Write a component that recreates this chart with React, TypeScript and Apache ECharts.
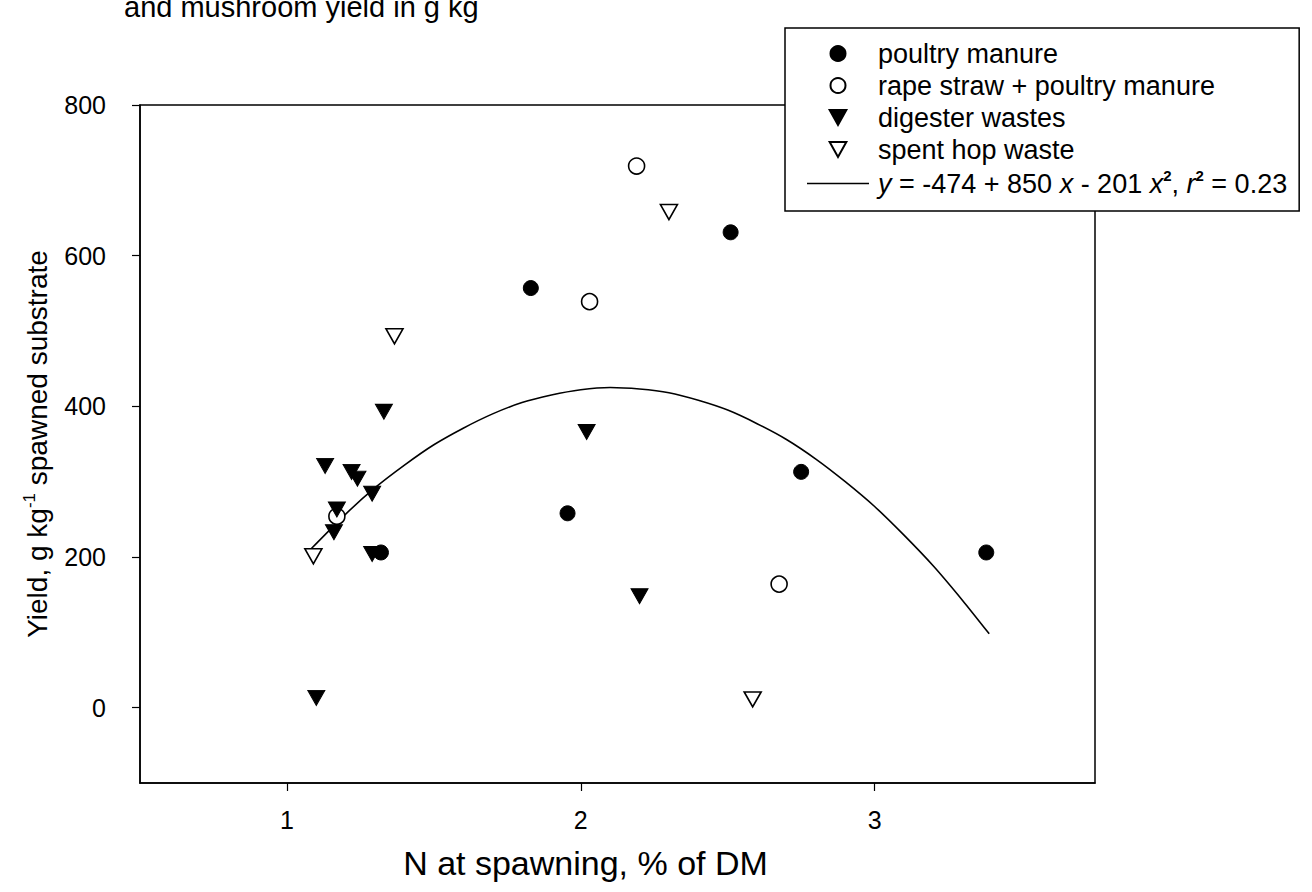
import React, { useEffect, useRef } from "react";
import * as echarts from "echarts";

// Data
const poultryX = [1.32, 1.83, 1.955, 2.51, 2.75, 3.38];
const poultryY = [206, 557, 258, 631, 313, 206];

const rapeX = [1.17, 2.03, 2.19, 2.675];
const rapeY = [254, 539, 719, 164];

const digesterX = [1.1, 1.13, 1.16, 1.17, 1.22, 1.24, 1.29, 1.29, 1.33, 2.02, 2.2];
const digesterY = [13, 321, 233, 263, 313, 304, 284, 204, 393, 366, 148];

const hopX = [1.09, 1.366, 2.3, 2.585];
const hopY = [201, 493, 658, 11];

// fitted curve, points
const fitX = [1.08, 1.2, 1.3, 1.4, 1.5, 1.6, 1.7, 1.8, 1.9, 2.0, 2.1, 2.2, 2.3, 2.4, 2.5, 2.6, 2.7, 2.8, 2.9, 3.0, 3.1, 3.2, 3.3, 3.39];
const fitY = [210, 257, 292, 322, 349, 371, 390, 405, 415, 422, 425, 423, 418, 408, 395, 377, 356, 330, 300, 267, 229, 188, 142, 98];

const xTicks = [1, 2, 3];
const yTicks = [0, 200, 400, 600, 800];

const seriesNames = [
  "poultry manure",
  "rape straw + poultry manure",
  "digester wastes",
  "spent hop waste",
  "fit",
];

const zip = (xs: number[], ys: number[]) => xs.map((x, i) => [x, ys[i]]);

const FONT = "Liberation Sans, Arial, sans-serif";

export default function App() {
  const ref = useRef<HTMLDivElement>(null);
  useEffect(() => {
    if (!ref.current) return;
    const chart = echarts.init(ref.current, undefined, { renderer: "svg" });
    const downTri = "path://M0,0 L10,0 L5,9 Z";
    const lineIcon = "path://M0,0 L100,0 L100,2.4 L0,2.4 Z";
    chart.setOption({
      animation: false,
      backgroundColor: "#fff",
      textStyle: { fontFamily: FONT, color: "#000" },
      grid: {
        left: 140,
        right: 217,
        top: 105,
        bottom: 109,
        show: true,
        borderColor: "#000",
        borderWidth: 1.5,
        containLabel: false,
      },
      graphic: [
        {
          type: "text",
          left: 124,
          top: -8,
          style: {
            text: "and mushroom yield in g kg",
            font: `29px ${FONT}`,
            fill: "#000",
          },
        },
      ],
      legend: {
        orient: "vertical",
        left: 785,
        top: 28,
        width: 520,
        padding: [12, 12, 14, 22],
        itemGap: 5,
        itemWidth: 62,
        itemHeight: 15,
        symbolKeepAspect: true,
        borderColor: "#000",
        borderWidth: 1.5,
        backgroundColor: "#fff",
        z: 20,
        data: seriesNames.map((n, i) => {
          if (i === 0) return { name: n, icon: "circle" };
          if (i === 1) return { name: n, icon: "circle" };
          if (i === 2) return { name: n, icon: downTri };
          if (i === 3) return { name: n, icon: downTri };
          return { name: n, icon: lineIcon };
        }),
        textStyle: {
          fontFamily: FONT,
          fontSize: 27,
          color: "#000",
          padding: [0, 0, 0, 4],
          rich: {
            i: { fontFamily: FONT, fontSize: 27, fontStyle: "italic", color: "#000" },
            s: {
              fontFamily: FONT,
              fontSize: 15,
              fontWeight: "bold",
              color: "#000",
              verticalAlign: "top",
              padding: [0, 0, 16, 0],
            },
          },
        },
        formatter: (name: string) =>
          name === "fit"
            ? "{i|y} = -474 + 850 {i|x} - 201 {i|x}{s|2}, {i|r}{s|2} = 0.23"
            : name,
      },
      xAxis: {
        type: "value",
        min: 0.5,
        max: 3.75,
        name: "N at spawning, % of DM",
        nameLocation: "middle",
        nameGap: 63,
        nameTextStyle: {
          fontFamily: FONT,
          fontSize: 34,
          color: "#000",
          padding: [0, 64, 0, 0],
        },
        axisLine: { show: true, onZero: false, lineStyle: { color: "#000", width: 1.5 } },
        axisTick: {
          show: true,
          length: 8,
          customValues: xTicks,
          lineStyle: { color: "#000", width: 1.2 },
        },
        axisLabel: {
          customValues: xTicks,
          fontFamily: FONT,
          fontSize: 25,
          color: "#000",
          margin: 24,
        },
        splitLine: { show: false },
      },
      yAxis: {
        type: "value",
        min: -100,
        max: 800,
        name: "Yield, g kg{s|-1} spawned substrate",
        nameLocation: "middle",
        nameGap: 86,
        nameTextStyle: {
          fontFamily: FONT,
          fontSize: 28,
          color: "#000",
          rich: {
            s: {
              fontFamily: FONT,
              fontSize: 17,
              color: "#000",
              verticalAlign: "top",
              padding: [0, 0, 16, 0],
            },
          },
        },
        axisLine: { show: true, onZero: false, lineStyle: { color: "#000", width: 1.5 } },
        axisTick: {
          show: true,
          length: 8,
          customValues: yTicks,
          lineStyle: { color: "#000", width: 1.2 },
        },
        axisLabel: {
          customValues: yTicks,
          fontFamily: FONT,
          fontSize: 25,
          color: "#000",
          margin: 34,
        },
        splitLine: { show: false },
      },
      series: [
        {
          name: seriesNames[0],
          type: "scatter",
          symbol: "circle",
          symbolSize: 15,
          itemStyle: { color: "#000", borderColor: "#000", borderWidth: 1, opacity: 1 },
          data: zip(poultryX, poultryY),
          z: 5,
        },
        {
          name: seriesNames[1],
          type: "scatter",
          symbol: "circle",
          symbolSize: 16,
          itemStyle: { color: "#fff", borderColor: "#000", borderWidth: 1.6, opacity: 1 },
          data: zip(rapeX, rapeY),
          z: 5,
        },
        {
          name: seriesNames[2],
          type: "scatter",
          symbol: downTri,
          symbolSize: [17, 15],
          itemStyle: { color: "#000", borderColor: "#000", borderWidth: 1, opacity: 1 },
          data: zip(digesterX, digesterY),
          z: 5,
        },
        {
          name: seriesNames[3],
          type: "scatter",
          symbol: downTri,
          symbolSize: [17, 15],
          itemStyle: { color: "#fff", borderColor: "#000", borderWidth: 1.6, opacity: 1 },
          data: zip(hopX, hopY),
          z: 5,
        },
        {
          name: seriesNames[4],
          type: "line",
          smooth: 0.2,
          showSymbol: false,
          symbol: "none",
          lineStyle: { color: "#000", width: 1.6 },
          itemStyle: { color: "#000" },
          data: zip(fitX, fitY),
          z: 3,
        },
      ],
    });
    return () => chart.dispose();
  }, []);
  return (
    <div
      ref={ref}
      style={{ position: "absolute", left: 0, top: 0, width: 1312, height: 892 }}
    />
  );
}
